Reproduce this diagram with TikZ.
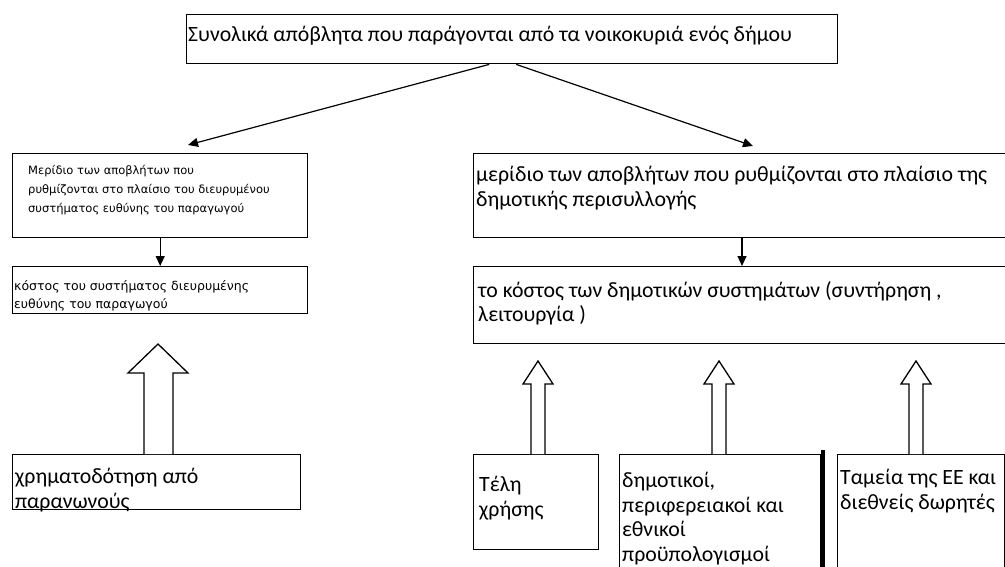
\documentclass[tikz,border=0pt]{standalone}
\usepackage{fontspec}
\setmainfont{Carlito}
\newfontfamily\smallfont{DejaVu Sans}
\usepackage{tikz}
\usetikzlibrary{arrows.meta}

\begin{document}
\begin{tikzpicture}[x=1pt,y=-1pt,
    box/.style={draw,line width=1.4pt,inner sep=0pt,anchor=north west},
    txt/.style={inner sep=0pt,anchor=west,align=left,font=\fontsize{21.8}{24.5}\selectfont},
    smalltxt/.style={inner sep=0pt,anchor=west,align=left,font=\smallfont\fontsize{11.5}{19}\selectfont},
    conn/.style={line width=1.2pt,-{Triangle[length=10pt,width=9pt]}},
    hollow/.style={line width=1.3pt,fill=white,line join=miter}]
          \useasboundingbox (0,0) rectangle (1005,567);
          % boxes
          \node[box,minimum width=651pt,minimum height=49pt] (top) at (186,14) {};
          \node[box,minimum width=295pt,minimum height=84pt] (lb1) at (12,153) {};
          \node[box,minimum width=295pt,minimum height=47pt] (lb2) at (12,266) {};
          \node[box,minimum width=288pt,minimum height=55pt] (lb3) at (12,454) {};
          \node[box,minimum width=540pt,minimum height=84pt] (rb1) at (473,153) {};
          \node[box,minimum width=540pt,minimum height=77pt] (rb2) at (473,266) {};
          \node[box,minimum width=125pt,minimum height=95pt] (fees) at (473,454) {};
          \node[box,minimum width=201pt,minimum height=125pt] (budget) at (619,454) {};
          \node[box,minimum width=167pt,minimum height=125pt] (funds) at (837,454) {};
          \draw[line width=4pt] (823,450) -- (823,570);
          % texts
          \node[txt] (toptxt) at (188,36) {Συνολικά απόβλητα που παράγονται από τα νοικοκυριά ενός δήμου};
          \node[smalltxt,anchor=north west] (lb1txt) at (28,165) {Μερίδιο των αποβλήτων που\\ρυθμίζονται στο πλαίσιο του διευρυμένου\\συστήματος ευθύνης του παραγωγού};
          \node[smalltxt,anchor=north west,font=\smallfont\fontsize{12.5}{18}\selectfont] (lb2txt) at (14,280) {κόστος του συστήματος διευρυμένης\\ευθύνης του παραγωγού};
          \node[txt,anchor=north west] (lb3txt) at (15,468) {χρηματοδότηση από\\παρανωνούς};
          \node[txt,anchor=north west] (rb1txt) at (476,166) {μερίδιο των αποβλήτων που ρυθμίζονται στο πλαίσιο της\\δημοτικής περισυλλογής};
          \node[txt,anchor=north west] (rb2txt) at (478,281) {το κόστος των δημοτικών συστημάτων (συντήρηση ,\\λειτουργία )};
          \node[txt,anchor=north west] (feestxt) at (479,476) {Τέλη\\χρήσης};
          \node[txt,anchor=north west] (budgettxt) at (622,472) {δημοτικοί,\\περιφερειακοί και\\εθνικοί\\προϋπολογισμοί};
          \node[txt,anchor=north west] (fundstxt) at (840,469) {Ταμεία της ΕΕ και\\διεθνείς δωρητές};
          % arrows
          \coordinate (rmid) at (742,0);
          \draw[conn] ([xshift=-23pt]top.south) -- ([xshift=176pt,yshift=8pt]lb1.north west);
          \draw[conn] ([xshift=4pt]top.south) -- ([xshift=280pt,yshift=7pt]rb1.north west);
          \draw[conn] (lb1.south) -- (lb2.north);
          \draw[conn] (rb1.south -| rmid) -- (rb2.north -| rmid);
          \draw[hollow] (144,454) -- (144,373) -- (128,373) -- (158,344) -- (188,373) -- (173,373) -- (173,454);
          \foreach \cx in {538,719,916}
            \draw[hollow] (\cx-7,454) -- (\cx-7,384) -- (\cx-15,384) -- (\cx,361) -- (\cx+15,384) -- (\cx+7,384) -- (\cx+7,454);
        \end{tikzpicture}
\end{document}
